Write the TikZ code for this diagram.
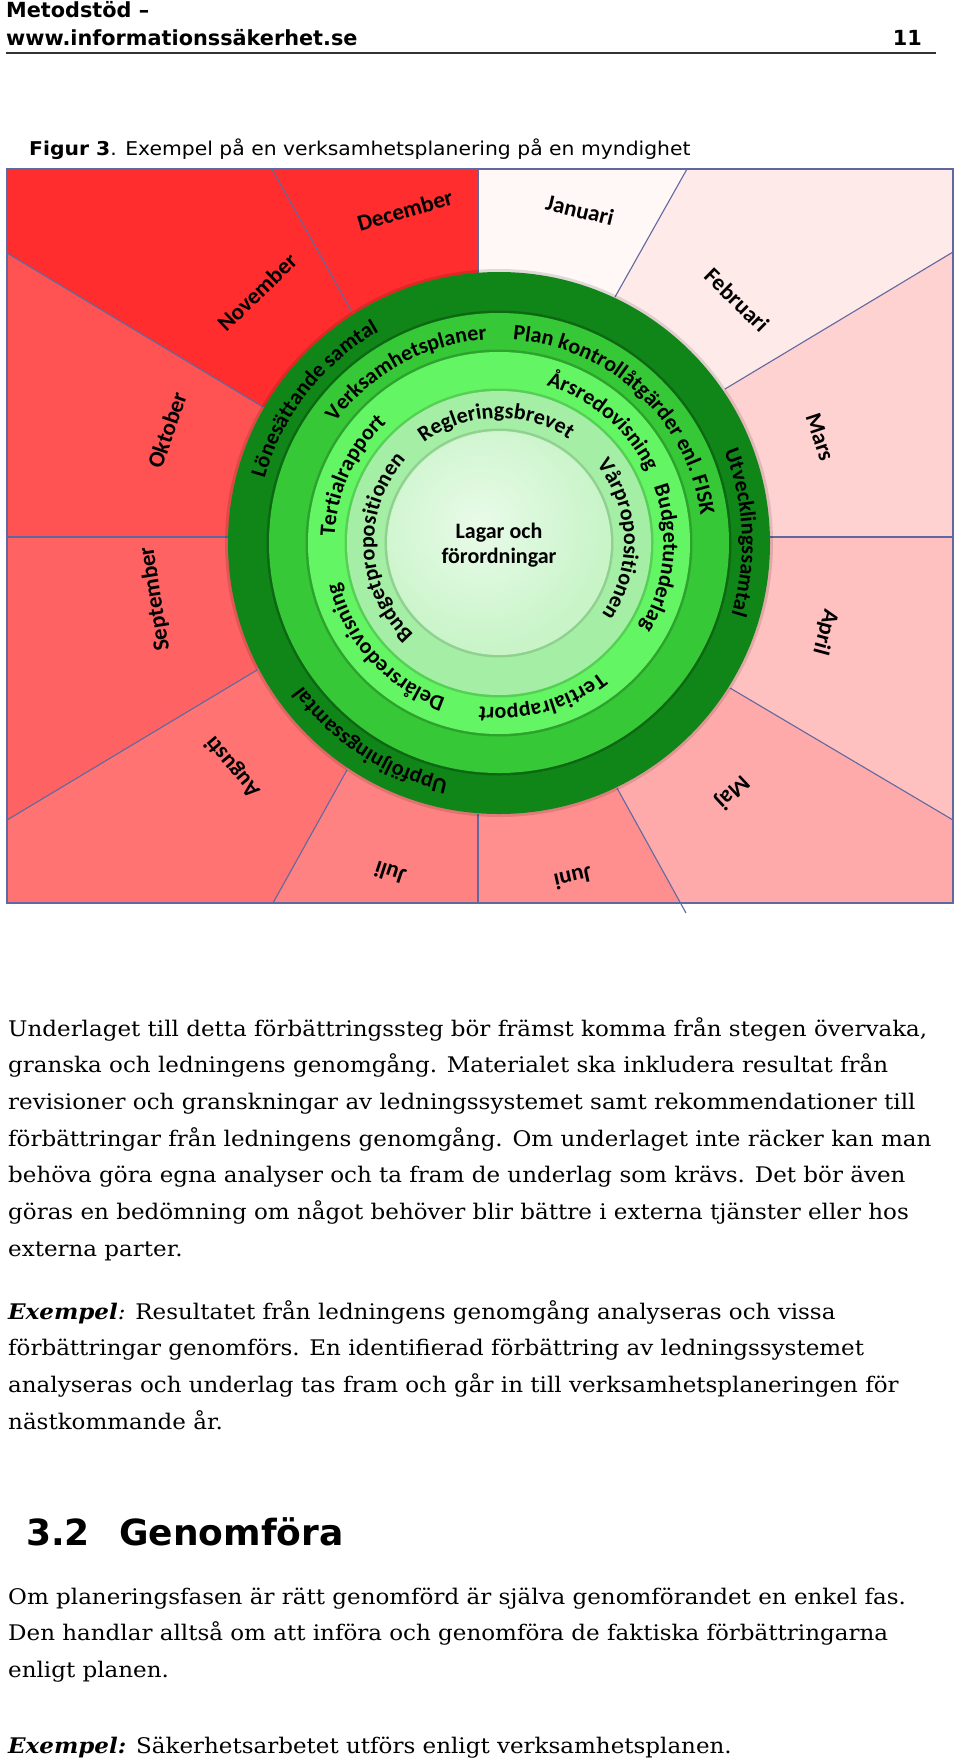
\documentclass[tikz,border=0pt]{standalone}
\usepackage{fontspec}
\setmainfont{DejaVu Serif}[FakeStretch=1.07]
\newfontfamily\calib{Carlito}
\newfontfamily\verd{DejaVu Sans}
\newfontfamily\verdw{DejaVu Sans}[FakeStretch=1.07]
\usetikzlibrary{decorations.text}
\definecolor{cJan}{RGB}{255,248,246}
\definecolor{cFeb}{RGB}{255,234,234}
\definecolor{cMar}{RGB}{255,210,210}
\definecolor{cApr}{RGB}{255,192,192}
\definecolor{cMaj}{RGB}{255,170,170}
\definecolor{cJun}{RGB}{255,142,142}
\definecolor{cJul}{RGB}{255,130,130}
\definecolor{cAug}{RGB}{255,115,115}
\definecolor{cSep}{RGB}{255,98,98}
\definecolor{cOkt}{RGB}{255,82,82}
\definecolor{cNov}{RGB}{255,45,45}
\definecolor{cDec}{RGB}{255,45,45}
\definecolor{lineblue}{RGB}{95,105,160}
\definecolor{ringD}{RGB}{16,134,24}
\definecolor{ringM}{RGB}{55,200,55}
\definecolor{ringB}{RGB}{100,245,100}
\definecolor{ringL}{RGB}{165,238,165}
\definecolor{ringC}{RGB}{200,244,200}
\newcommand\ringfont{\calib\bfseries\fontsize{22}{26}\selectfont}
\newcommand\monthfont{\calib\bfseries\fontsize{23}{27}\selectfont}
\newcommand\centerfont{\calib\bfseries\fontsize{22}{25}\selectfont}
\newcommand\bodyfont{\fontsize{21.5}{25}\selectfont}
\newcommand\hdrfont{\verd\bfseries\fontsize{20.8}{24}\selectfont}
\begin{document}
\begin{tikzpicture}[x=1pt,y=1pt,
  bound/.style={draw=lineblue, line width=1.1pt},
  month/.style={font=\monthfont, inner sep=0pt},
  body/.style={anchor=base west, inner sep=0pt, font=\bodyfont},
  hdr/.style={anchor=base west, inner sep=0pt, font=\hdrfont},
  ringtxt/.style={decorate, decoration={text along path, text align=center, text={|\ringfont|#1}}}
]
\useasboundingbox[fill=white] (0,0) rectangle (960,-1764);
% header
\node[hdr] (h1) at (6,-17) {Metodstöd –};
\node[hdr] (h2) at (6,-45) {www.informationssäkerhet.se};
\node[hdr, anchor=base east] (pg) at (922,-45) {11};
\coordinate (r1) at (6,-53); \coordinate (r2) at (936,-53);
\draw[line width=1.6pt, black!80] (r1) -- (r2);
\node[anchor=base west, inner sep=0pt, font=\verdw\fontsize{19}{22}\selectfont] (cap) at (29,-155) {\textbf{Figur 3}. Exempel på en verksamhetsplanering på en myndighet};
% chart
\coordinate (C) at (499,-543);
\fill[cJan] (478,-169) -- (687,-169) -- (615,-297) -- (C) -- (478,-273) -- cycle;
\fill[cFeb] (687,-169) -- (953,-169) -- (953,-252) -- (725,-389) -- (C) -- (615,-297) -- cycle;
\fill[cMar] (953,-252) -- (953,-537) -- (770,-537) -- (C) -- (725,-389) -- cycle;
\fill[cApr] (953,-537) -- (953,-820) -- (730,-688) -- (C) -- (770,-537) -- cycle;
\fill[cMaj] (953,-820) -- (953,-903) -- (680,-903) -- (617,-788) -- (C) -- (730,-688) -- cycle;
\fill[cJun] (680,-903) -- (478,-903) -- (478,-814) -- (C) -- (617,-788) -- cycle;
\fill[cJul] (478,-903) -- (273,-903) -- (347,-770) -- (C) -- (478,-814) -- cycle;
\fill[cAug] (273,-903) -- (7,-903) -- (7,-820) -- (257,-670) -- (C) -- (347,-770) -- cycle;
\fill[cSep] (7,-820) -- (7,-537) -- (228,-537) -- (C) -- (257,-670) -- cycle;
\fill[cOkt] (7,-537) -- (7,-253) -- (263,-407) -- (C) -- (228,-537) -- cycle;
\fill[cNov] (7,-253) -- (7,-169) -- (272,-169) -- (352,-312) -- (C) -- (263,-407) -- cycle;
\fill[cDec] (272,-169) -- (478,-169) -- (478,-273) -- (C) -- (352,-312) -- cycle;
\draw[bound] (7,-169) rectangle (953,-903);
\draw[bound] (478,-169) -- (478,-273);
\draw[bound] (687,-169) -- (615,-297);
\draw[bound] (953,-252) -- (725,-389);
\draw[bound] (953,-537) -- (770,-537);
\draw[bound] (953,-820) -- (730,-688);
\draw[bound] (686,-913) -- (617,-788);
\draw[bound] (478,-903) -- (478,-814);
\draw[bound] (273,-903) -- (347,-770);
\draw[bound] (7,-820) -- (257,-670);
\draw[bound] (7,-537) -- (228,-537);
\draw[bound] (7,-253) -- (263,-407);
\draw[bound] (272,-169) -- (352,-312);
% rings
\fill[black, opacity=.12] (C) circle (274);
\fill[ringD] (C) circle (271);
\fill[black, opacity=.22] (C) circle (232.5);
\fill[ringM] (C) circle (230);
\fill[black, opacity=.18] (C) circle (193.5);
\fill[ringB] (C) circle (191);
\fill[black, opacity=.15] (C) circle (154.5);
\fill[ringL] (C) circle (152);
\fill[black, opacity=.12] (C) circle (114.5);
\fill[ringC] (C) circle (112);
\begin{scope}
\clip (C) circle (111);
\shade[inner color=ringC!40!white, outer color=ringC] (C) ++(-18,18) circle (125);
\end{scope}
% ring texts
\path[ringtxt={Lönesättande samtal}] (C) ++(187:243) arc[start angle=187, end angle=97, radius=243];
\path[ringtxt={Utvecklingssamtal}] (C) ++(50:243) arc[start angle=50, end angle=-45, radius=243];
\path[ringtxt={Uppföljningssamtal}] (C) ++(285:243) arc[start angle=285, end angle=189, radius=243];
\path[ringtxt={Verksamhetsplaner}] (C) ++(165:203.5) arc[start angle=165, end angle=72, radius=203.5];
\path[ringtxt={Plan kontrollåtgärder enl. FISK}] (C) ++(100:203.5) arc[start angle=100, end angle=-6, radius=203.5];
\path[ringtxt={Tertialrapport}] (C) ++(195:164.5) arc[start angle=195, end angle=116, radius=164.5];
\path[ringtxt={Årsredovisning}] (C) ++(90:164.5) arc[start angle=90, end angle=9, radius=164.5];
\path[ringtxt={Budgetunderlag}] (C) ++(35:164.5) arc[start angle=35, end angle=-46, radius=164.5];
\path[ringtxt={Tertialrapport}] (C) ++(325:164.5) arc[start angle=325, end angle=246, radius=164.5];
\path[ringtxt={Delårsredovisning}] (C) ++(272:164.5) arc[start angle=272, end angle=173, radius=164.5];
\path[ringtxt={Regleringsbrevet}] (C) ++(143:125) arc[start angle=143, end angle=40, radius=125];
\path[ringtxt={Vårpropositionen}] (C) ++(52:125) arc[start angle=52, end angle=-48, radius=125];
\path[ringtxt={Budgetpropositionen}] (C) ++(240:125) arc[start angle=240, end angle=125, radius=125];
\node[font=\centerfont, align=center, inner sep=0pt] (lagar) at (499,-545) {Lagar och\\förordningar};
% months
\node[month, rotate=-13.7] (jan) at (580,-210) {Januari};
\node[month, rotate=-44.4] (feb) at (737,-300) {Februari};
\node[month, rotate=-71.7] (mar) at (820,-437) {Mars};
\node[month, rotate=-105] (apr) at (825,-632) {April};
\node[month, rotate=-137] (maj) at (732,-792) {Maj};
\node[month, rotate=-167.5] (jun) at (573,-878) {Juni};
\node[month, rotate=161.7] (jul) at (390,-873) {Juli};
\node[month, rotate=130] (aug) at (233,-767) {Augusti};
\node[month, rotate=99] (sep) at (155,-599) {September};
\node[month, rotate=71] (okt) at (167,-430) {Oktober};
\node[month, rotate=44] (nov) at (257,-292) {November};
\node[month, rotate=16] (dec) at (405,-210) {December};
% body text
\node[body] (p1a) at (8,-1036) {Underlaget till detta förbättringssteg bör främst komma från stegen övervaka,};
\node[body] (p1b) at (8,-1072.7) {granska och ledningens genomgång. Materialet ska inkludera resultat från};
\node[body] (p1c) at (8,-1109.4) {revisioner och granskningar av ledningssystemet samt rekommendationer till};
\node[body] (p1d) at (8,-1146.1) {förbättringar från ledningens genomgång. Om underlaget inte räcker kan man};
\node[body] (p1e) at (8,-1182.8) {behöva göra egna analyser och ta fram de underlag som krävs. Det bör även};
\node[body] (p1f) at (8,-1219.5) {göras en bedömning om något behöver blir bättre i externa tjänster eller hos};
\node[body] (p1g) at (8,-1256.2) {externa parter.};
\node[body] (p2a) at (8,-1319) {\textbf{\textit{Exempel}}\textit{:} Resultatet från ledningens genomgång analyseras och vissa};
\node[body] (p2b) at (8,-1355.7) {förbättringar genomförs. En identifierad förbättring av ledningssystemet};
\node[body] (p2c) at (8,-1392.4) {analyseras och underlag tas fram och går in till verksamhetsplaneringen för};
\node[body] (p2d) at (8,-1429.1) {nästkommande år.};
\node[anchor=base west, inner sep=0pt, font=\verd\bfseries\fontsize{36}{40}\selectfont] (hn) at (26,-1545) {3.2};
\node[anchor=base west, inner sep=0pt, font=\verd\bfseries\fontsize{36}{40}\selectfont] (ht) at (119,-1545) {Genomföra};
\node[body] (p3a) at (8,-1604) {Om planeringsfasen är rätt genomförd är själva genomförandet en enkel fas.};
\node[body] (p3b) at (8,-1640.7) {Den handlar alltså om att införa och genomföra de faktiska förbättringarna};
\node[body] (p3c) at (8,-1677.4) {enligt planen.};
\node[body] (p4) at (8,-1753) {\textbf{\textit{Exempel:}} Säkerhetsarbetet utförs enligt verksamhetsplanen.};
\end{tikzpicture}
\end{document}
